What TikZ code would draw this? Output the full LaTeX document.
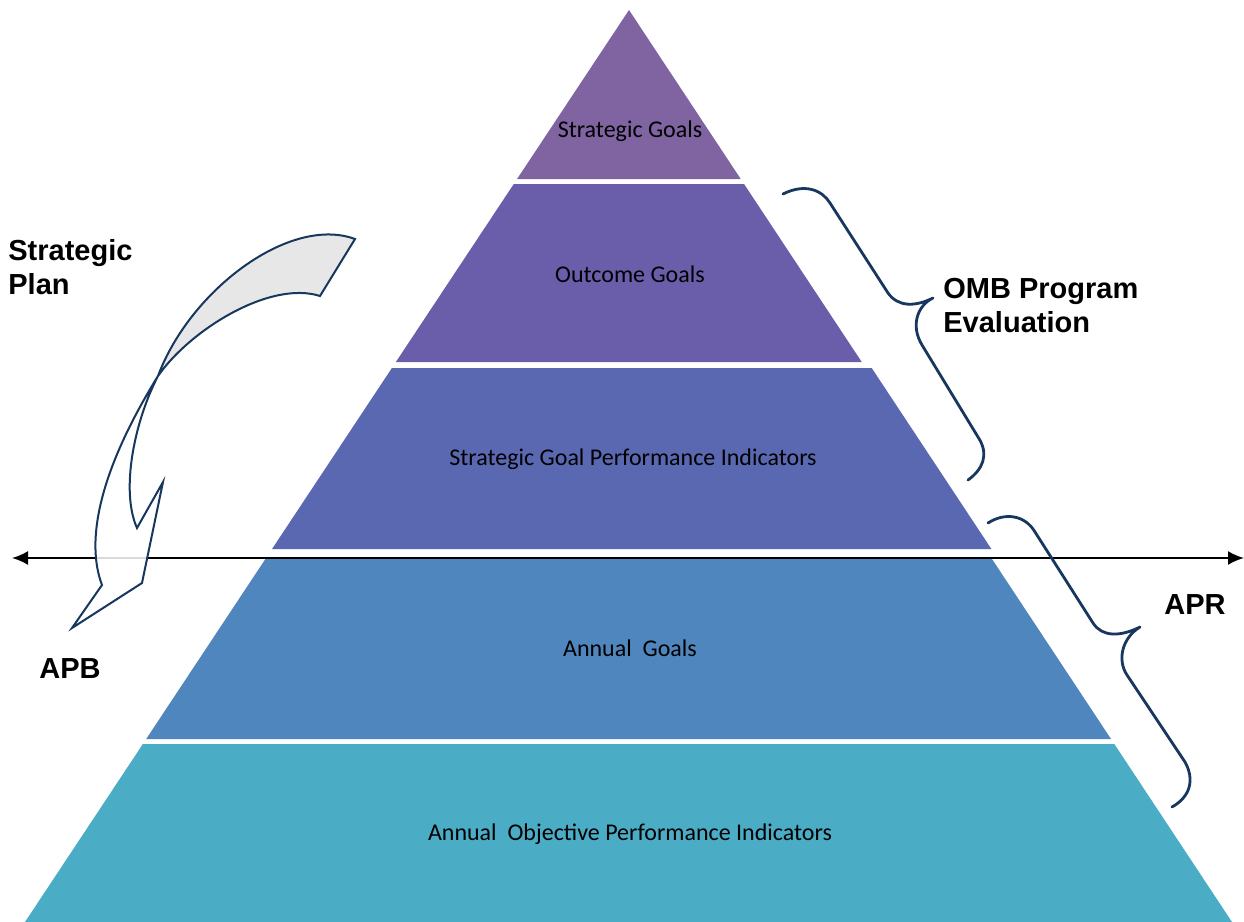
\documentclass[tikz,border=0pt]{standalone}
\usepackage{fontspec}
\setmainfont{Carlito}
\newfontfamily\labelfont{Liberation Sans}
\usetikzlibrary{arrows.meta}

\definecolor{sgcol}{RGB}{128,100,162}
\definecolor{ogcol}{RGB}{106,94,170}
\definecolor{sgpcol}{RGB}{90,104,178}
\definecolor{agcol}{RGB}{80,134,190}
\definecolor{aopcol}{RGB}{75,172,198}
\definecolor{bracecol}{RGB}{23,55,94}
\definecolor{twistgray}{RGB}{231,231,231}

\tikzset{
  bandtext/.style={font=\fontsize{12}{14}\selectfont, text=black},
  sidetext/.style={font=\labelfont\bfseries\fontsize{14.5}{17}\selectfont, align=left, inner sep=0pt},
  bracket/.style={draw=bracecol, line width=1.4pt, line cap=round, line join=round},
  arrowedge/.style={draw=bracecol, line width=1pt, line join=miter},
  timeline/.style={draw=black, line width=1pt, {Latex[length=8pt,width=7pt]}-{Latex[length=8pt,width=7pt]}}
}

\newcommand{\bendarrowpath}{(355,239) .. controls (290,215) and (190,290) .. (158,376)
  .. controls (135,420) and (120,490) .. (137,528) -- (163,482) -- (142,583) -- (72,628) -- (102,585)
  .. controls (85,540) and (100,470) .. (158,376)
  .. controls (190,330) and (270,280) .. (320,296) -- cycle}

\begin{document}
\begin{tikzpicture}[x=0.5pt,y=-0.5pt]
    \useasboundingbox (0,0) rectangle (1244,922);

    % pyramid bands
    \foreach \ytop/\ybot/\shift/\col/\ytext/\txt/\name in {
        10/179/0/sgcol/131/Strategic Goals/sg,
        184/362/0/ogcol/274/Outcome Goals/og,
        368/549/6/sgpcol/459/Strategic Goal Performance Indicators/sgp,
        559/739/0/agcol/648/Annual\ \ Goals/ag,
        744/922/0/aopcol/834/Annual\ \ Objective Performance Indicators/aop} {
        \pgfmathsetmacro\xtl{629-0.6623*(\ytop-10)}
        \pgfmathsetmacro\xtr{629+\shift+0.6612*(\ytop-10)}
        \pgfmathsetmacro\xbl{629-0.6623*(\ybot-10)}
        \pgfmathsetmacro\xbr{629+\shift+0.6612*(\ybot-10)}
        \fill[\col] (\xtl,\ytop) -- (\xtr,\ytop) -- (\xbr,\ybot) -- (\xbl,\ybot) -- cycle;
        \node[bandtext] (\name) at (630+\shift/2,\ytext) {\txt};
    }

    % time line
    \coordinate (westend) at (12,558);
    \coordinate (eastend) at (1244,558);
    \draw[timeline] (westend) -- (eastend);

    % twisted arrow
    \fill[white, fill opacity=0.85] \bendarrowpath;
    \begin{scope}
        \clip (0,0) rectangle (400,376);
        \fill[twistgray] \bendarrowpath;
    \end{scope}
    \draw[arrowedge] \bendarrowpath;

    % braces
    \draw[bracket] (783,194) .. controls (805,183) and (822,190) .. (830,203) -- (888,293)
        .. controls (898,307) and (915,307) .. (933,298)
        .. controls (918,305) and (910,325) .. (922,345) -- (978,437)
        .. controls (990,455) and (982,470) .. (968,480);
    \draw[bracket] (988,523) .. controls (1005,512) and (1025,515) .. (1035,532) -- (1093,623)
        .. controls (1102,637) and (1120,637) .. (1140,627)
        .. controls (1122,638) and (1117,660) .. (1127,675) -- (1185,762)
        .. controls (1195,780) and (1190,797) .. (1172,807);

    % side labels
    \node[sidetext, anchor=west] (plan) at (8,267) {Strategic\\Plan};
    \node[sidetext, anchor=west] (omb) at (943,306) {OMB Program\\Evaluation};
    \node[sidetext] (apr) at (1195,605) {APR};
    \node[sidetext] (apb) at (70,669) {APB};
\end{tikzpicture}
\end{document}
